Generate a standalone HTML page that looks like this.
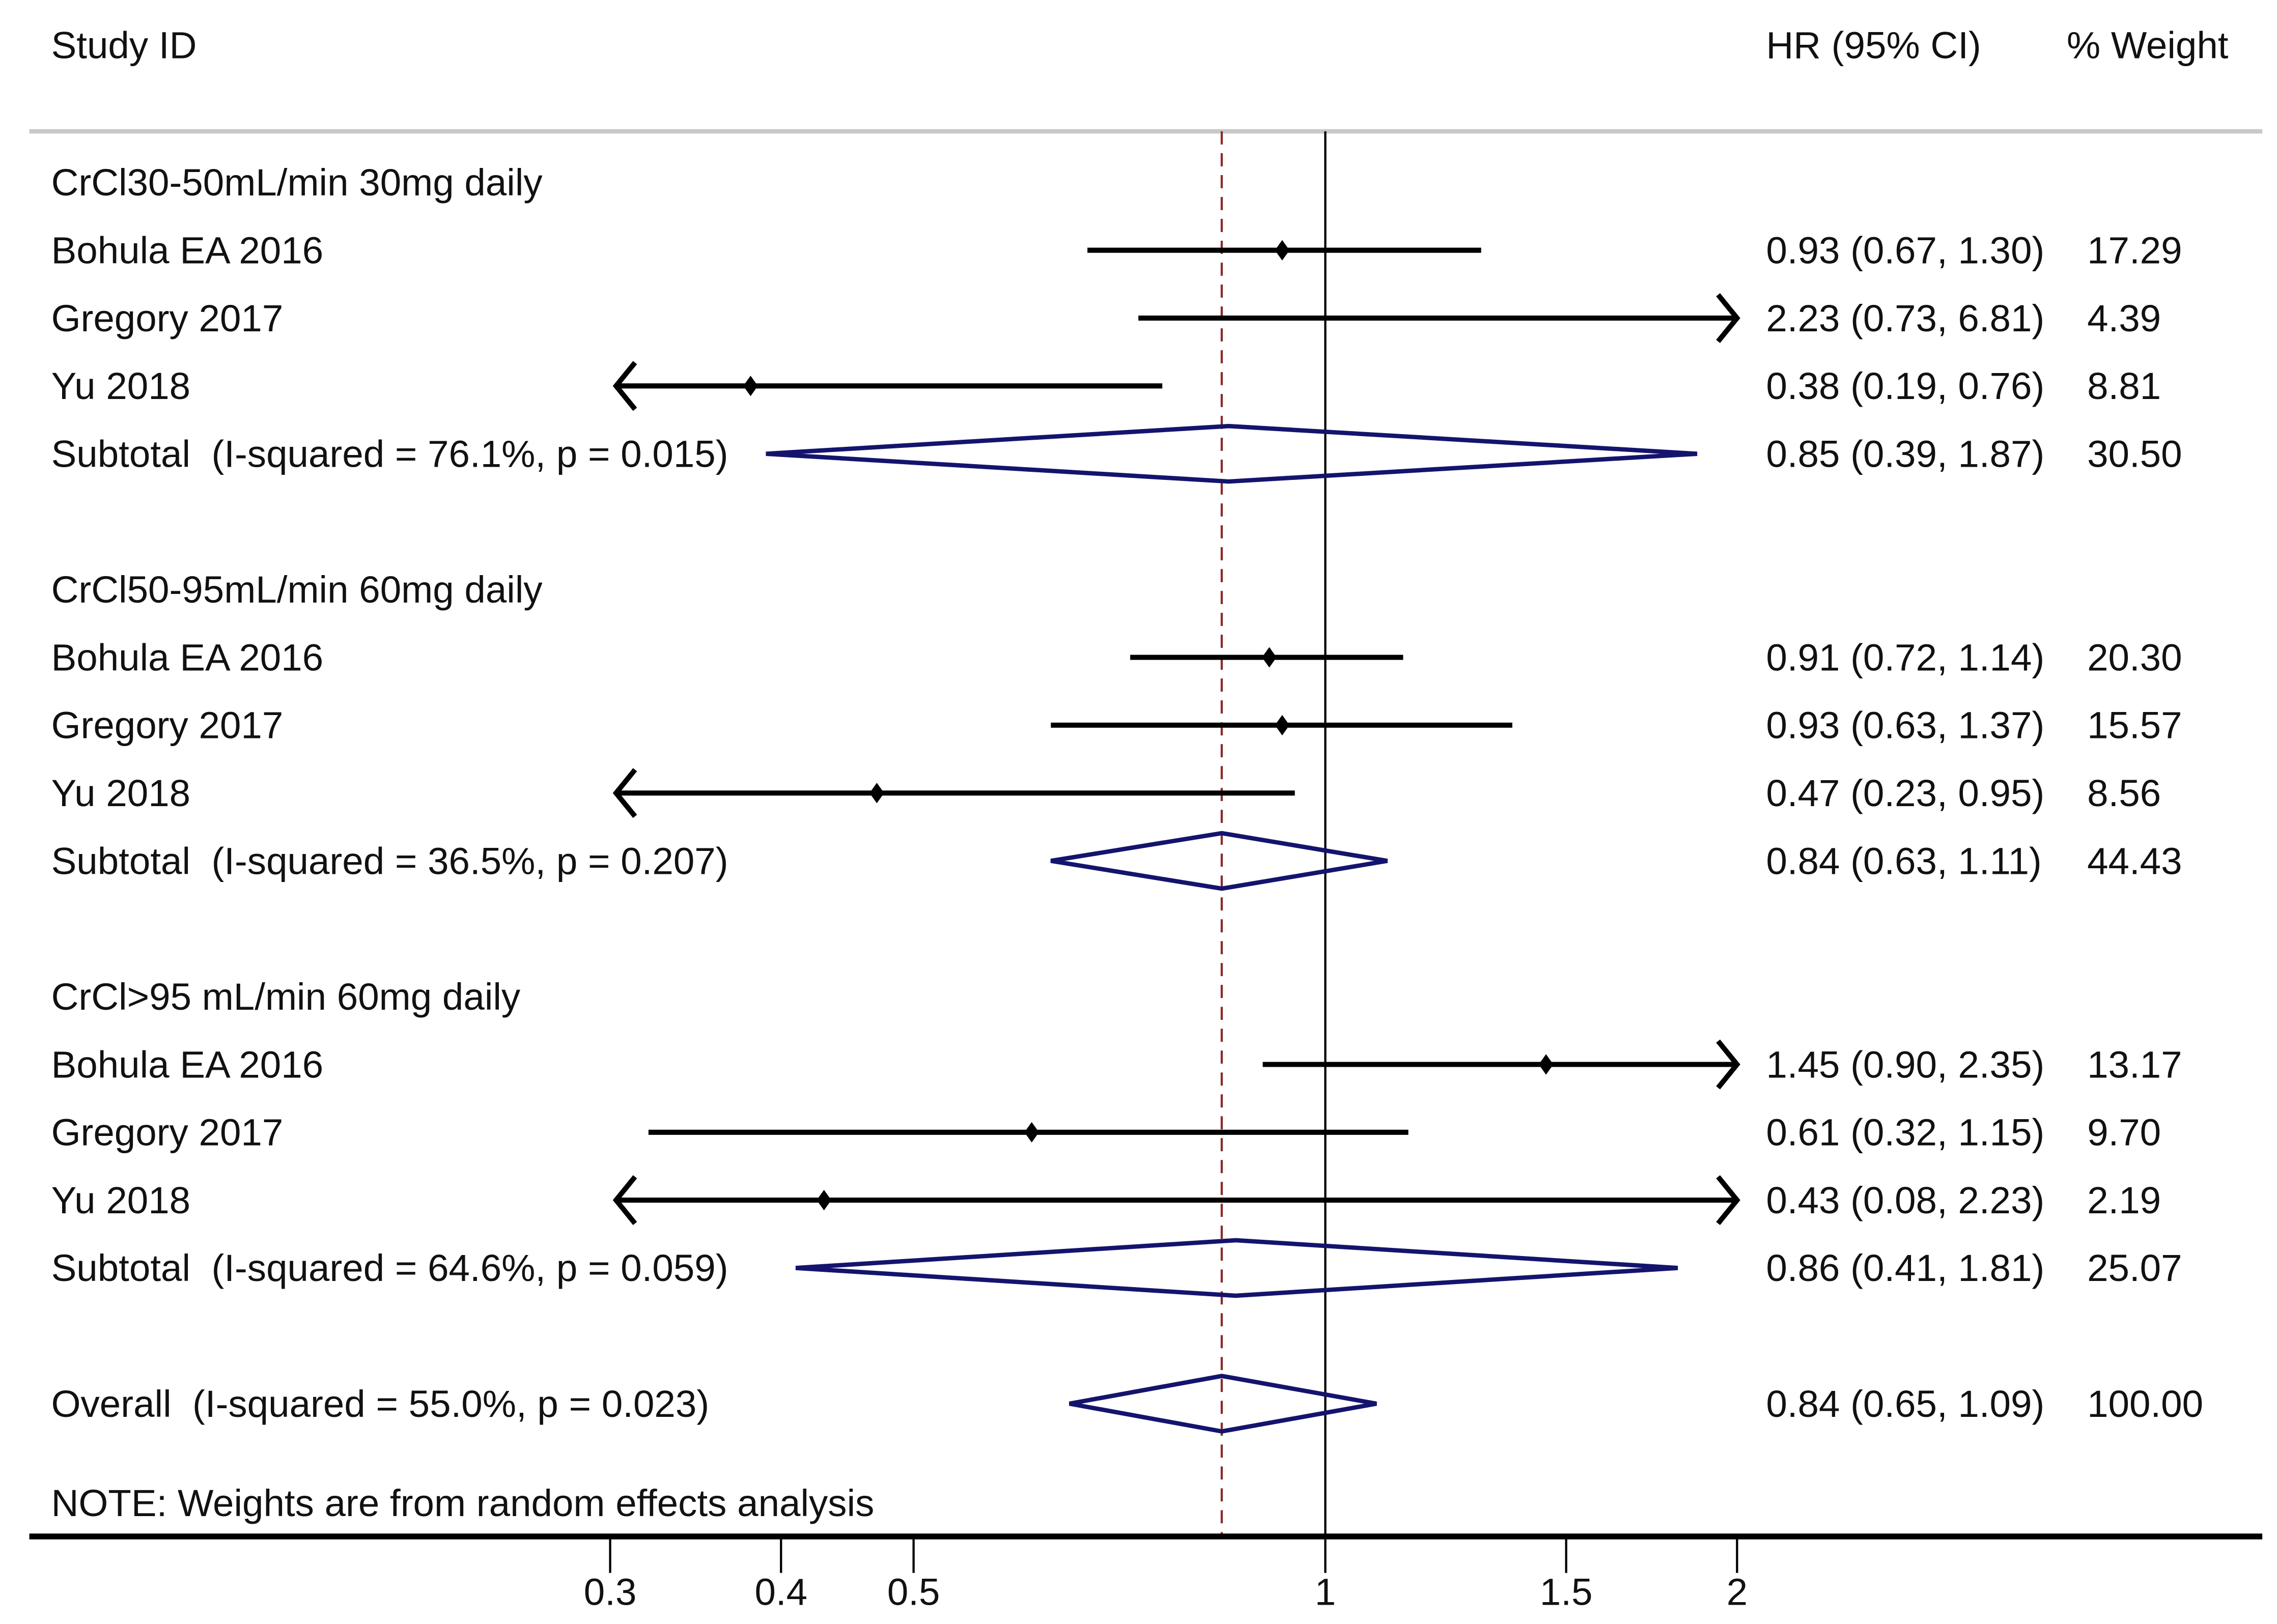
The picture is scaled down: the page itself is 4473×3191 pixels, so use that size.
<!DOCTYPE html>
<html><head><meta charset="utf-8"><style>
html,body{margin:0;padding:0;background:#fff}
svg{display:block}
text{font-family:"Liberation Sans",Arial,sans-serif;font-size:26px;fill:#111;white-space:pre}
</style></head><body>
<svg id="chart" width="4473" height="3191" viewBox="0 0 1560 1113" xmlns="http://www.w3.org/2000/svg">
<rect width="1560" height="1113" fill="#fff"/>
<text x="35" y="40">Study ID</text>
<text x="1210" y="40">HR (95% CI)</text>
<text x="1416" y="40">% Weight</text>
<line x1="20" y1="90" x2="1550" y2="90" stroke="#c8c8c8" stroke-width="3"/>
<g id="marks"></g>
<text x="35" y="1039">NOTE: Weights are from random effects analysis</text>
</svg>
<script>
const labels = ["CrCl30-50mL/min 30mg daily","Bohula EA 2016","Gregory 2017","Yu 2018","Subtotal  (I-squared = 76.1%, p = 0.015)","","CrCl50-95mL/min 60mg daily","Bohula EA 2016","Gregory 2017","Yu 2018","Subtotal  (I-squared = 36.5%, p = 0.207)","","CrCl>95 mL/min 60mg daily","Bohula EA 2016","Gregory 2017","Yu 2018","Subtotal  (I-squared = 64.6%, p = 0.059)","","Overall  (I-squared = 55.0%, p = 0.023)"];
const kinds = ["h","s","s","s","d","","h","s","s","s","d","","h","s","s","s","d","","d"];
const est = [null,0.93,2.23,0.38,0.85,null,null,0.91,0.93,0.47,0.84,null,null,1.45,0.61,0.43,0.86,null,0.84];
const lo  = [null,0.67,0.73,0.19,0.39,null,null,0.72,0.63,0.23,0.63,null,null,0.90,0.32,0.08,0.41,null,0.65];
const hi  = [null,1.30,6.81,0.76,1.87,null,null,1.14,1.37,0.95,1.11,null,null,2.35,1.15,2.23,1.81,null,1.09];
const weights = ["","17.29","4.39","8.81","30.50","","","20.30","15.57","8.56","44.43","","","13.17","9.70","2.19","25.07","","100.00"];
const overall = 0.84;
const ticks = [0.3,0.4,0.5,1,1.5,2];
const tickLabels = ["0.3","0.4","0.5","1","1.5","2"];

const NS="http://www.w3.org/2000/svg";
const g=document.getElementById('marks');
const X0=908, K=407, XMIN=0.303, XMAX=2.0;
function xs(v){return X0+K*Math.log(v);}
function ys(i){return 125+i*46.5;}
function el(t,a){const e=document.createElementNS(NS,t);for(const k in a)e.setAttribute(k,a[k]);g.appendChild(e);return e;}
const fmt=v=>v.toFixed(2);

let l=el('line',{x1:X0,y1:90,x2:X0,y2:1053,stroke:'#000','stroke-width':1.5});


l=el('line',{x1:xs(overall),y1:90,x2:xs(overall),y2:1053,stroke:'#8b2a2a','stroke-width':1.5,'stroke-dasharray':'9,6'});



labels.forEach((lab,i)=>{
  if(!lab)return;
  const yy = i===18 ? 962 : ys(i);
  let t=el('text',{x:35,y:yy+9});t.textContent=lab;
  
  
  if(kinds[i]==='h')return;
  t=el('text',{x:1210,y:yy+9});t.textContent=fmt(est[i])+" ("+fmt(lo[i])+", "+fmt(hi[i])+")";
  
  
  t=el('text',{x:1430,y:yy+9});t.textContent=weights[i];
  
  
  if(kinds[i]==='s'){
    const a=xs(Math.max(lo[i],XMIN)), b=xs(Math.min(hi[i],XMAX));
    let c=el('line',{x1:a,y1:yy,x2:b,y2:yy,stroke:'#000','stroke-width':3.5});
    
    
    if(lo[i]<XMIN){c=el('polyline',{points:`${a+13},${yy-16} ${a},${yy} ${a+13},${yy+16}`,fill:'none',stroke:'#000','stroke-width':3.5});
      
      }
    if(hi[i]>XMAX){c=el('polyline',{points:`${b-13},${yy-16} ${b},${yy} ${b-13},${yy+16}`,fill:'none',stroke:'#000','stroke-width':3.5});
      
      }
    if(est[i]>=XMIN && est[i]<=XMAX){
      const px=xs(est[i]);
      c=el('polygon',{points:`${px},${yy-7} ${px+5},${yy} ${px},${yy+7} ${px-5},${yy}`,fill:'#000'});
      
      
    }
  } else {
    const a=xs(lo[i]), b=xs(hi[i]), m=xs(est[i]);
    const d=el('polygon',{points:`${a},${yy} ${m},${yy-19} ${b},${yy} ${m},${yy+19}`,fill:'none',stroke:'#14146e','stroke-width':3});
    
    
  }
});

l=el('line',{x1:20,y1:1053,x2:1550,y2:1053,stroke:'#000','stroke-width':4});


ticks.forEach((v,i)=>{
  const x=xs(v);
  let t=el('line',{x1:x,y1:1053,x2:x,y2:1078,stroke:'#000','stroke-width':1.5});
  
  
  t=el('text',{x:x,y:1100,'text-anchor':'middle'});t.textContent=tickLabels[i];
  
  
});
</script>
</body></html>
